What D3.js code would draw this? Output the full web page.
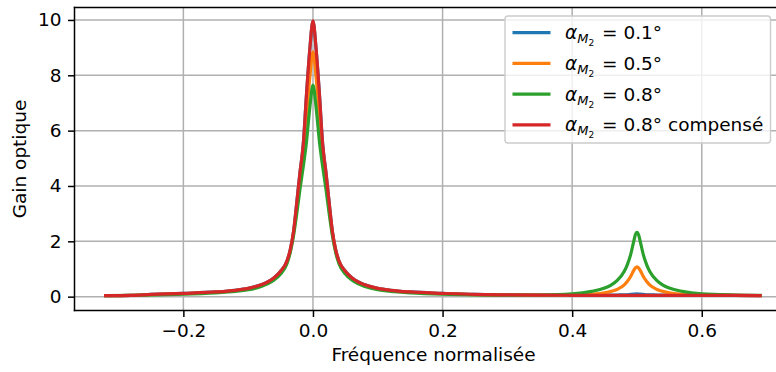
<!DOCTYPE html>
<html>
<head>
<meta charset="utf-8">
<script src="https://cdn.jsdelivr.net/npm/d3@7"></script>
<style>
  body { margin: 0; background: #fff; }
  text { font-family: "DejaVu Sans", sans-serif; }
</style>
</head>
<body>
<div id="chart"></div>
<script>
// values
var freq = [-0.32, -0.28, -0.25, -0.2, -0.15, -0.12, -0.1, -0.08, -0.07, -0.06,
  -0.05, -0.04, -0.035, -0.03, -0.025, -0.02, -0.015, -0.01, -0.005, 0,
  0.005, 0.01, 0.015, 0.02, 0.025, 0.03, 0.035, 0.04, 0.05, 0.06,
  0.07, 0.08, 0.1, 0.12, 0.15, 0.2, 0.25, 0.3, 0.35, 0.4,
  0.43, 0.45, 0.46, 0.47, 0.48, 0.485, 0.49, 0.495, 0.4975, 0.5, 0.5025, 0.505,
  0.51, 0.515, 0.52, 0.53, 0.54, 0.55, 0.57, 0.6, 0.65, 0.69];

var gain01 = [0.04, 0.05, 0.08, 0.12, 0.17, 0.23, 0.3, 0.43, 0.53, 0.68,
  0.92, 1.3, 1.7, 2.35, 3.4, 4.5, 5.5, 7.3, 8.9, 9.95,
  8.9, 7.3, 5.5, 4.5, 3.4, 2.35, 1.7, 1.3, 0.92, 0.68,
  0.53, 0.43, 0.3, 0.23, 0.17, 0.12, 0.08, 0.065, 0.055, 0.05,
  0.05, 0.055, 0.055, 0.06, 0.065, 0.07, 0.08, 0.09, 0.097, 0.1, 0.097, 0.09,
  0.08, 0.07, 0.065, 0.06, 0.055, 0.055, 0.05, 0.045, 0.045, 0.04];

var gain05 = [0.04, 0.05, 0.075, 0.11, 0.16, 0.22, 0.29, 0.41, 0.51, 0.66,
  0.89, 1.27, 1.66, 2.3, 3.2, 4.2, 5.1, 6.5, 7.9, 8.85,
  7.9, 6.5, 5.1, 4.2, 3.2, 2.3, 1.66, 1.27, 0.89, 0.66,
  0.51, 0.41, 0.29, 0.22, 0.16, 0.11, 0.075, 0.06, 0.055, 0.06,
  0.09, 0.14, 0.19, 0.27, 0.42, 0.55, 0.72, 0.95, 1.04, 1.08, 1.04, 0.95,
  0.72, 0.55, 0.42, 0.27, 0.19, 0.14, 0.09, 0.06, 0.05, 0.04];

var gain08 = [0.04, 0.045, 0.065, 0.09, 0.14, 0.19, 0.25, 0.37, 0.46, 0.6,
  0.82, 1.2, 1.6, 2.2, 3.0, 3.9, 4.7, 5.6, 6.8, 7.65,
  6.8, 5.6, 4.7, 3.9, 3.0, 2.2, 1.6, 1.2, 0.82, 0.6,
  0.46, 0.37, 0.25, 0.19, 0.14, 0.09, 0.065, 0.055, 0.06, 0.1,
  0.19, 0.31, 0.42, 0.6, 0.9, 1.15, 1.5, 2.0, 2.24, 2.32, 2.24, 2.0,
  1.5, 1.15, 0.9, 0.6, 0.42, 0.31, 0.19, 0.1, 0.06, 0.05];

var gain08comp = [0.04, 0.05, 0.08, 0.12, 0.17, 0.23, 0.3, 0.43, 0.53, 0.68,
  0.92, 1.3, 1.7, 2.35, 3.4, 4.5, 5.5, 7.3, 8.9, 9.97,
  8.9, 7.3, 5.5, 4.5, 3.4, 2.35, 1.7, 1.3, 0.92, 0.68,
  0.53, 0.43, 0.3, 0.23, 0.17, 0.12, 0.08, 0.065, 0.055, 0.05,
  0.045, 0.045, 0.045, 0.045, 0.045, 0.045, 0.045, 0.045, 0.045, 0.045, 0.045, 0.045,
  0.045, 0.045, 0.045, 0.045, 0.045, 0.045, 0.045, 0.045, 0.045, 0.04];

var legendValues = ["0.1°", "0.5°", "0.8°", "0.8° compensé"];
var colors = ["#1f77b4", "#ff7f0e", "#2ca02c", "#d62728"];

var xTicks = [-0.2, 0.0, 0.2, 0.4, 0.6];
var xTickLabels = ["\u22120.2", "0.0", "0.2", "0.4", "0.6"];
var yTicks = [0, 2, 4, 6, 8, 10];

function drawChart() {
  var series = [gain01, gain05, gain08, gain08comp].map(function(vals, i) {
    return {
      label: legendValues[i],
      color: colors[i],
      points: freq.map(function(f, j) { return [f, vals[j]]; })
    };
  });

  var W = 776, H = 372;
  var mLeft = 74.5, mTop = 7.5, mRight = 792.5, mBottom = 310.5;
  var fs = 18.5;

  var svg = d3.select("#chart").append("svg")
    .attr("width", W).attr("height", H);

  var x = d3.scaleLinear().domain([-0.368, 0.74]).range([mLeft, mRight]);
  var y = d3.scaleLinear().domain([-0.5, 10.45]).range([mBottom, mTop]);

  // grid
  svg.append("g").selectAll("line")
    .data(xTicks).enter().append("line")
    .attr("x1", function(d) { return x(d); }).attr("x2", function(d) { return x(d); })
    .attr("y1", mTop).attr("y2", mBottom)
    .style("stroke", "#b0b0b0").style("stroke-width", 1.5);
  svg.append("g").selectAll("line")
    .data(yTicks).enter().append("line")
    .attr("x1", mLeft).attr("x2", mRight)
    .attr("y1", function(d) { return y(d); }).attr("y2", function(d) { return y(d); })
    .style("stroke", "#b0b0b0").style("stroke-width", 1.5);

  svg.append("clipPath").attr("id", "clip")
    .append("rect").attr("x", mLeft).attr("y", mTop)
    .attr("width", mRight - mLeft).attr("height", mBottom - mTop);

  var line = d3.line()
    .curve(d3.curveMonotoneX)
    .x(function(d) { return x(d[0]); })
    .y(function(d) { return y(d[1]); });

  svg.append("g").attr("clip-path", "url(#clip)")
    .selectAll("path").data(series).enter().append("path")
    .attr("d", function(d) { return line(d.points); })
    .style("fill", "none")
    .style("stroke", function(d) { return d.color; })
    .style("stroke-width", 3.2)
    .style("stroke-linejoin", "round")
    .style("stroke-linecap", "square");

  // axes
  var xAxis = d3.axisBottom(x).tickValues(xTicks)
    .tickFormat(function(d, i) { return xTickLabels[i]; })
    .tickSize(6.5).tickPadding(6.5).tickSizeOuter(0);
  var yAxis = d3.axisLeft(y).tickValues(yTicks)
    .tickFormat(d3.format("d"))
    .tickSize(6.5).tickPadding(6.5).tickSizeOuter(0);

  var gx = svg.append("g").attr("transform", "translate(0," + mBottom + ")").call(xAxis);
  var gy = svg.append("g").attr("transform", "translate(" + mLeft + ",0)").call(yAxis);
  [gx, gy].forEach(function(g) {
    g.select(".domain").remove();
    g.selectAll(".tick line").style("stroke", "#000").style("stroke-width", 1.5);
    g.selectAll(".tick text").style("font-size", fs + "px").style("fill", "#000")
      .style("font-family", "DejaVu Sans");
  });

  // spines
  svg.append("line").attr("x1", mLeft).attr("x2", mLeft).attr("y1", mTop).attr("y2", mBottom)
    .style("stroke", "#000").style("stroke-width", 1.5).style("stroke-linecap", "square");
  svg.append("line").attr("x1", mLeft).attr("x2", mRight).attr("y1", mBottom).attr("y2", mBottom)
    .style("stroke", "#000").style("stroke-width", 1.5).style("stroke-linecap", "square");
  svg.append("line").attr("x1", mLeft).attr("x2", mRight).attr("y1", mTop).attr("y2", mTop)
    .style("stroke", "#000").style("stroke-width", 1.5).style("stroke-linecap", "square");

  // axis labels
  svg.append("text")
    .attr("x", (mLeft + mRight) / 2).attr("y", 361)
    .attr("text-anchor", "middle")
    .style("font-size", fs + "px")
    .text("Fréquence normalisée");
  svg.append("text")
    .attr("transform", "translate(26," + (mTop + mBottom) / 2 + ") rotate(-90)")
    .attr("text-anchor", "middle")
    .style("font-size", fs + "px")
    .text("Gain optique");

  // legend
  var legend = svg.append("g");
  legend.append("rect")
    .attr("x", 505).attr("y", 16).attr("width", 265.5).attr("height", 127)
    .attr("rx", 3).attr("ry", 3)
    .style("fill", "#fff").style("fill-opacity", 0.8)
    .style("stroke", "#cccccc").style("stroke-width", 1.4);

  var rows = legend.selectAll("g.row").data(series).enter().append("g")
    .attr("transform", function(d, i) { return "translate(0," + (32.7 + i * 30.7) + ")"; });
  rows.append("line")
    .attr("x1", 512.5).attr("x2", 550.5).attr("y1", 0).attr("y2", 0)
    .style("stroke", function(d) { return d.color; })
    .style("stroke-width", 3.2);
  var lt = rows.append("text")
    .attr("x", 565).attr("y", 6.5)
    .style("font-size", fs + "px")
    .style("white-space", "pre");
  lt.append("tspan").style("font-style", "italic").text("α");
  lt.append("tspan").style("font-style", "italic").style("font-size", "13px")
    .attr("dy", 4).text("M");
  lt.append("tspan").style("font-size", "9px").attr("dy", 3).text("2");
  lt.append("tspan").attr("dy", -7).attr("dx", 2)
    .text(function(d) { return " = " + d.label; });
}

drawChart();
</script>
</body>
</html>
